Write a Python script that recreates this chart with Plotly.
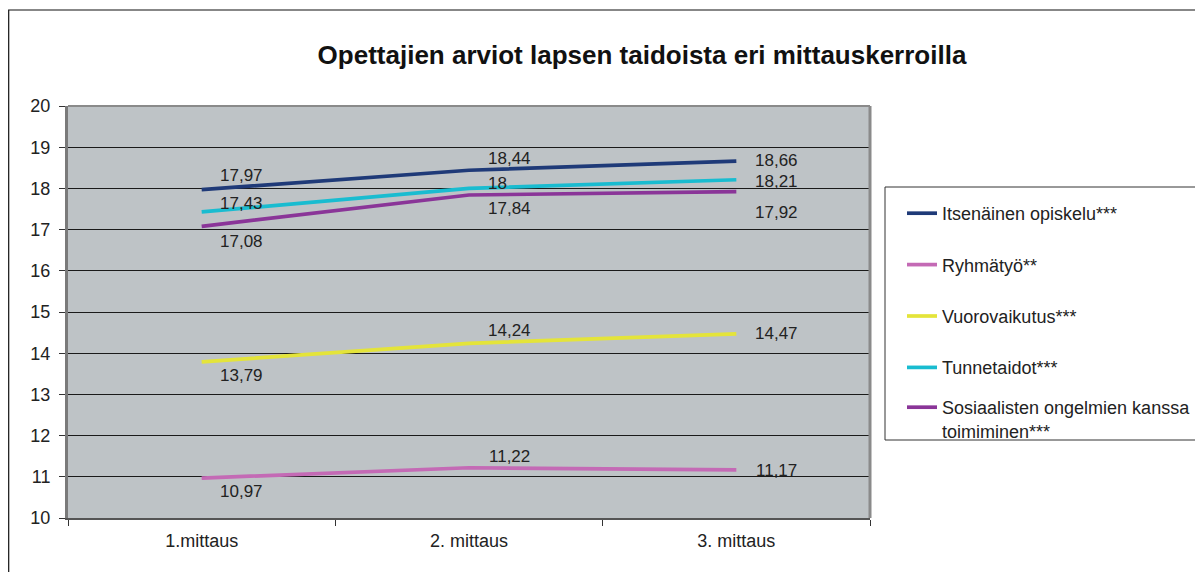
import plotly.graph_objects as go

categories = ["1.mittaus", "2. mittaus", "3. mittaus"]
series_names = [
    "Itsenäinen opiskelu***",
    "Ryhmätyö**",
    "Vuorovaikutus***",
    "Tunnetaidot***",
    "Sosiaalisten ongelmien kanssa<br>toimiminen***",
]
itsenainen = [17.97, 18.44, 18.66]
ryhmatyo = [10.97, 11.22, 11.17]
vuorovaikutus = [13.79, 14.24, 14.47]
tunnetaidot = [17.43, 18.00, 18.21]
sosiaalisten = [17.08, 17.84, 17.92]
value_labels = {
    0: ["17,97", "18,44", "18,66"],
    1: ["10,97", "11,22", "11,17"],
    2: ["13,79", "14,24", "14,47"],
    3: ["17,43", "18", "18,21"],
    4: ["17,08", "17,84", "17,92"],
}
colors = ["#1F3A78", "#C46AB5", "#E4E43A", "#19BCD0", "#8A3598"]
series_values = [itsenainen, ryhmatyo, vuorovaikutus, tunnetaidot, sosiaalisten]
# label offsets (px) per series, per point
label_shifts = {
    0: [(40, 14), (40, 12), (40, 1)],
    1: [(40, -13), (40, 11), (40, -1)],
    2: [(40, -14), (40, 13), (40, 0)],
    3: [(40, 8), (28, 5), (40, -2)],
    4: [(40, -15), (40, -14), (40, -21)],
}

PAGE_OFF = 8  # default body margin of the html page
W, H = 1203 - PAGE_OFF, 572 - PAGE_OFF
# plot area in page pixels
L, R, T, B = 68 - PAGE_OFF, 870 - PAGE_OFF, 106 - PAGE_OFF, 518 - PAGE_OFF


def px(x):
    return (x - PAGE_OFF - L) / (R - L)


def py(y):
    return (B - (y - PAGE_OFF)) / (B - T)


FONT = "Arial, Liberation Sans, sans-serif"

fig = go.Figure()
for i, (name, vals) in enumerate(zip(series_names, series_values)):
    fig.add_trace(go.Scatter(
        x=categories, y=vals, name=name, mode="lines",
        line=dict(color=colors[i], width=3.7),
        legendgroup=str(i),
        legend="legend2" if i == 4 else "legend",
    ))
    for j, v in enumerate(vals):
        dx, dy = label_shifts[i][j]
        fig.add_annotation(
            x=categories[j], y=v, text=value_labels[i][j], showarrow=False,
            xshift=dx, yshift=dy, font=dict(family=FONT, size=17, color="#222"),
        )

shapes = [
    # outer chart border
    dict(type="rect", xref="paper", yref="paper", x0=px(8.7), x1=px(1230), y0=py(600), y1=py(10),
         line=dict(color="#111", width=1.2), fillcolor="rgba(0,0,0,0)", layer="below"),
    # legend box
    dict(type="rect", xref="paper", yref="paper", x0=px(885), x1=px(1230), y0=py(440), y1=py(187),
         line=dict(color="#333", width=1), fillcolor="rgba(0,0,0,0)"),
    # top border of plot area
    dict(type="line", xref="paper", yref="paper", x0=0, x1=1, y0=1, y1=1,
         line=dict(color="#8a8a8a", width=2)),
    # right border of plot area
    dict(type="line", xref="paper", yref="paper", x0=1, x1=1, y0=0, y1=1,
         line=dict(color="#8a8a8a", width=3)),
]

legend_common = dict(
    xanchor="left", yanchor="top",
    bgcolor="rgba(0,0,0,0)", borderwidth=0,
    font=dict(family=FONT, size=18, color="#222"),
    valign="top", itemwidth=30,
)

fig.update_layout(
    width=W, height=H,
    margin=dict(l=L, r=W - R, t=T, b=H - B, autoexpand=False),
    paper_bgcolor="white",
    plot_bgcolor="#BEC3C6",
    font=dict(family=FONT, size=18, color="#222"),
    title=dict(
        text="<b>Opettajien arviot lapsen taidoista eri mittauskerroilla</b>",
        x=(642 - PAGE_OFF) / W, xanchor="center", y=1 - (55 - PAGE_OFF) / H, yanchor="middle",
        font=dict(family=FONT, size=26, color="#111"),
    ),
    xaxis=dict(
        type="category", range=[-0.5, 2.5], tickson="boundaries",
        ticks="outside", ticklen=6, tickcolor="#333", tickwidth=1,
        showgrid=False, showline=True, linecolor="#555", linewidth=2,
        tickfont=dict(size=18, color="#222"), ticklabelstandoff=5,
    ),
    yaxis=dict(
        range=[10, 20], dtick=1, tick0=10,
        ticks="outside", ticklen=6, tickcolor="#333", tickwidth=1,
        showgrid=True, gridcolor="#1a1a1a", gridwidth=1,
        showline=True, linecolor="#7a7a7a", linewidth=3,
        tickfont=dict(size=18, color="#222"), zeroline=False,
        ticklabelstandoff=5,
    ),
    legend=dict(x=px(902), y=py(195), tracegroupgap=25, **legend_common),
    legend2=dict(x=px(902), y=py(389), **legend_common),
    shapes=shapes,
)

fig.write_html("out.html")
